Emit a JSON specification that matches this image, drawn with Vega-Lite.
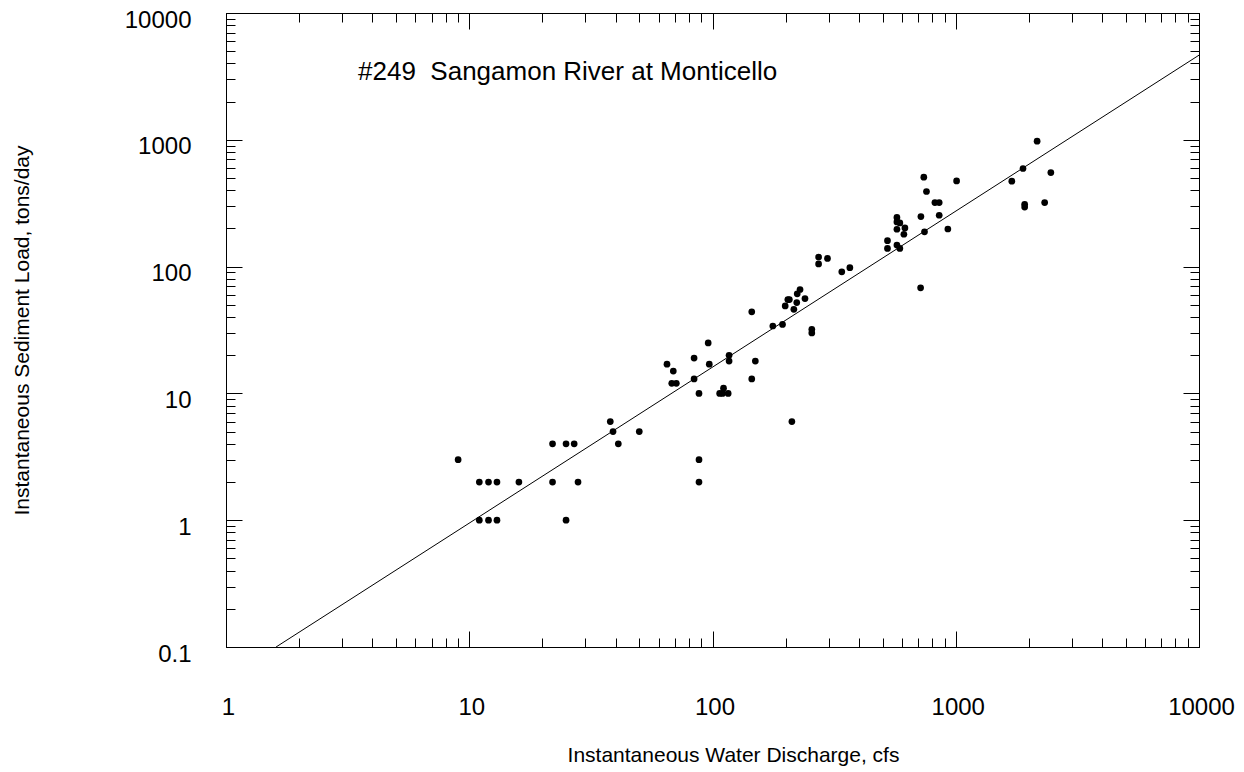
{
  "$schema": "https://vega.github.io/schema/vega-lite/v6.json",
  "width": 973,
  "height": 634,
  "autosize": {"type": "none"},
  "padding": {"left": 226, "top": 13, "right": 45, "bottom": 125},
  "background": "white",
  "config": {
    "view": {"stroke": null},
    "axis": {
      "grid": false,
      "domainColor": "black",
      "domainWidth": 1,
      "tickColor": "black",
      "tickWidth": 1,
      "labelFont": "Liberation Sans",
      "labelFontSize": 24,
      "labelColor": "black",
      "titleFont": "Liberation Sans",
      "titleFontSize": 21,
      "titleFontWeight": "normal",
      "titleColor": "black"
    }
  },
  "datasets": {
    "obs": [
      {"q": 9, "s": 3},
      {"q": 11, "s": 2}, {"q": 12, "s": 2}, {"q": 13, "s": 2}, {"q": 16, "s": 2}, {"q": 22, "s": 2}, {"q": 28, "s": 2},
      {"q": 11, "s": 1}, {"q": 12, "s": 1}, {"q": 13, "s": 1}, {"q": 25, "s": 1},
      {"q": 22, "s": 4}, {"q": 25, "s": 4}, {"q": 27, "s": 4}, {"q": 41, "s": 4},
      {"q": 38, "s": 6}, {"q": 39, "s": 5}, {"q": 50, "s": 5},
      {"q": 65, "s": 17}, {"q": 69, "s": 15}, {"q": 68, "s": 12}, {"q": 71, "s": 12},
      {"q": 84, "s": 19}, {"q": 84, "s": 13}, {"q": 88, "s": 10}, {"q": 88, "s": 3}, {"q": 88, "s": 2},
      {"q": 96, "s": 25}, {"q": 97, "s": 17},
      {"q": 107, "s": 10}, {"q": 110, "s": 10}, {"q": 111, "s": 11}, {"q": 116, "s": 10},
      {"q": 117, "s": 20}, {"q": 117, "s": 18},
      {"q": 145, "s": 44}, {"q": 150, "s": 18}, {"q": 145, "s": 13},
      {"q": 177, "s": 34}, {"q": 194, "s": 35}, {"q": 212, "s": 6},
      {"q": 199, "s": 49}, {"q": 204, "s": 55}, {"q": 207, "s": 55}, {"q": 222, "s": 52}, {"q": 216, "s": 46}, {"q": 223, "s": 61}, {"q": 229, "s": 66}, {"q": 240, "s": 56},
      {"q": 256, "s": 32}, {"q": 256, "s": 30},
      {"q": 273, "s": 119}, {"q": 297, "s": 116}, {"q": 273, "s": 105},
      {"q": 340, "s": 91}, {"q": 367, "s": 98},
      {"q": 524, "s": 160}, {"q": 524, "s": 139},
      {"q": 573, "s": 244}, {"q": 573, "s": 225}, {"q": 589, "s": 221}, {"q": 573, "s": 197}, {"q": 618, "s": 202}, {"q": 612, "s": 180}, {"q": 573, "s": 148}, {"q": 589, "s": 139},
      {"q": 719, "s": 248}, {"q": 739, "s": 507}, {"q": 758, "s": 391}, {"q": 744, "s": 188}, {"q": 717, "s": 68},
      {"q": 821, "s": 320}, {"q": 855, "s": 320}, {"q": 855, "s": 254}, {"q": 928, "s": 198}, {"q": 1008, "s": 474},
      {"q": 1700, "s": 472}, {"q": 1890, "s": 594}, {"q": 2160, "s": 975}, {"q": 2460, "s": 552}, {"q": 1920, "s": 310}, {"q": 1920, "s": 295}, {"q": 2320, "s": 320}
    ],
    "fit": [
      {"q": 1.606, "s": 0.1},
      {"q": 10000, "s": 4650}
    ],
    "note": [
      {"q": 3.49, "s": 2950, "label": "#249\u00a0\u00a0Sangamon River at Monticello"}
    ]
  },
  "layer": [
    {
      "data": {"name": "obs"},
      "mark": {"type": "circle", "size": 45, "color": "black", "opacity": 1},
      "encoding": {
        "x": {
          "field": "q", "type": "quantitative",
          "scale": {"type": "log", "domain": [1, 10000], "nice": false},
          "axis": {
            "orient": "bottom",
            "values": [1, 10, 100, 1000, 10000],
            "tickSize": -16,
            "labelPadding": 64,
            "labelOffset": 2,
            "labelBaseline": "top",
            "labelFlush": false,
            "labelOverlap": false,
            "labelExpr": "'' + datum.value",
            "title": "Instantaneous Water Discharge, cfs",
            "titleX": 507,
            "titleY": 108,
            "titleBaseline": "middle",
            "titleAnchor": null
          }
        },
        "y": {
          "field": "s", "type": "quantitative",
          "scale": {"type": "log", "domain": [0.1, 10000], "nice": false},
          "axis": {
            "orient": "left",
            "values": [0.1, 1, 10, 100, 1000, 10000],
            "tickSize": -16,
            "labelPadding": 51,
            "labelOffset": 7,
            "labelBaseline": "middle",
            "labelFlush": false,
            "labelOverlap": false,
            "labelExpr": "'' + datum.value",
            "title": "Instantaneous Sediment Load, tons/day",
            "titleX": -204,
            "titleY": 317,
            "titleAngle": -90,
            "titleBaseline": "middle",
            "titleAlign": "center",
            "titleAnchor": null
          }
        }
      }
    },
    {
      "data": {"name": "fit"},
      "mark": {"type": "line", "color": "black", "strokeWidth": 1, "clip": true},
      "encoding": {
        "x": {
          "field": "q", "type": "quantitative",
          "axis": {
            "orient": "bottom",
            "values": [2, 3, 4, 5, 6, 7, 8, 9, 20, 30, 40, 50, 60, 70, 80, 90, 200, 300, 400, 500, 600, 700, 800, 900, 2000, 3000, 4000, 5000, 6000, 7000, 8000, 9000],
            "tickSize": -9,
            "labels": false,
            "title": null,
            "domain": true
          }
        },
        "y": {
          "field": "s", "type": "quantitative",
          "axis": {
            "orient": "left",
            "values": [0.2, 0.3, 0.4, 0.5, 0.6, 0.7, 0.8, 0.9, 2, 3, 4, 5, 6, 7, 8, 9, 20, 30, 40, 50, 60, 70, 80, 90, 200, 300, 400, 500, 600, 700, 800, 900, 2000, 3000, 4000, 5000, 6000, 7000, 8000, 9000],
            "tickSize": -9,
            "labels": false,
            "title": null,
            "domain": true
          }
        }
      }
    },
    {
      "data": {"name": "note"},
      "mark": {"type": "text", "align": "left", "baseline": "alphabetic", "font": "Liberation Sans", "fontSize": 26, "color": "black"},
      "encoding": {
        "text": {"field": "label"},
        "x": {
          "field": "q", "type": "quantitative",
          "axis": {
            "orient": "top",
            "values": [1, 10, 100, 1000, 10000],
            "tickSize": -16,
            "labels": false,
            "title": null,
            "domain": true
          }
        },
        "y": {
          "field": "s", "type": "quantitative",
          "axis": {
            "orient": "right",
            "values": [0.1, 1, 10, 100, 1000, 10000],
            "tickSize": -16,
            "labels": false,
            "title": null,
            "domain": true
          }
        }
      }
    },
    {
      "data": {"name": "obs"},
      "mark": {"type": "point", "opacity": 0},
      "encoding": {
        "x": {
          "field": "q", "type": "quantitative",
          "axis": {
            "orient": "top",
            "values": [2, 3, 4, 5, 6, 7, 8, 9, 20, 30, 40, 50, 60, 70, 80, 90, 200, 300, 400, 500, 600, 700, 800, 900, 2000, 3000, 4000, 5000, 6000, 7000, 8000, 9000],
            "tickSize": -9,
            "labels": false,
            "title": null,
            "domain": true
          }
        },
        "y": {
          "field": "s", "type": "quantitative",
          "axis": {
            "orient": "right",
            "values": [0.2, 0.3, 0.4, 0.5, 0.6, 0.7, 0.8, 0.9, 2, 3, 4, 5, 6, 7, 8, 9, 20, 30, 40, 50, 60, 70, 80, 90, 200, 300, 400, 500, 600, 700, 800, 900, 2000, 3000, 4000, 5000, 6000, 7000, 8000, 9000],
            "tickSize": -9,
            "labels": false,
            "title": null,
            "domain": true
          }
        }
      }
    }
  ],
  "resolve": {"axis": {"x": "independent", "y": "independent"}}
}
